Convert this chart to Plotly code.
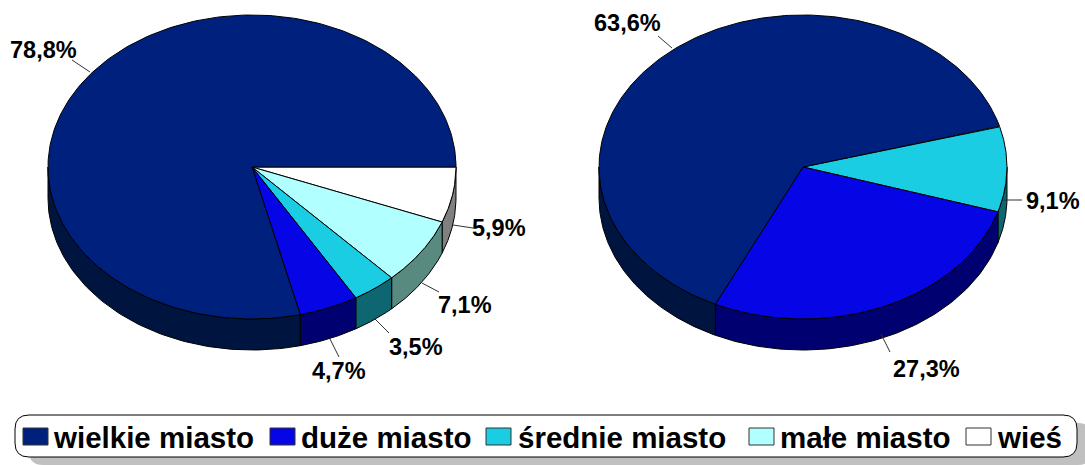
import numpy as np
import plotly.graph_objects as go

categories = ["wieś", "małe miasto", "średnie miasto", "duże miasto", "wielkie miasto"]
left_values = [5.9, 7.1, 3.5, 4.7, 78.8]
right_values = [0, 0, 9.1, 27.3, 63.6]
right_start_deg = -15.6
left_start_deg = 0.0

top_colors = {"wieś": "#ffffff", "małe miasto": "#b2ffff", "średnie miasto": "#1bcde3",
              "duże miasto": "#0505e6", "wielkie miasto": "#00207e"}
side_colors = {"wieś": "#808080", "małe miasto": "#598a80", "średnie miasto": "#0e6670",
               "duże miasto": "#000070", "wielkie miasto": "#001440"}
legend_order = ["wielkie miasto", "duże miasto", "średnie miasto", "małe miasto", "wieś"]
legend_swatch_x = [23, 270, 486, 749, 966]
legend_text_x = [51, 299, 516, 778, 995]

RX, RY, DEPTH, CY = 204, 152, 31, 167
FONT = "Liberation Sans"

fig = go.Figure()


def poly(xs, ys, fill):
    fig.add_trace(go.Scatter(x=xs, y=ys, mode="lines", fill="toself", fillcolor=fill,
                             line=dict(color="#000000", width=1), hoverinfo="skip",
                             showlegend=False))


def draw_pie(cx, values, start):
    total = sum(values)
    a = start
    spans = []
    for name, v in zip(categories, values):
        if v > 0:
            spans.append((name, a, a + v / total * 360))
            a += v / total * 360
    # side walls: only the front half of the rim is visible
    for name, a0, a1 in spans:
        for lo, hi in [(a0, a1), (a0 - 360, a1 - 360)]:
            s, e = max(lo, 0), min(hi, 180)
            if e > s:
                t = np.radians(np.linspace(s, e, 90))
                xs = cx + RX * np.cos(t)
                ys = CY + RY * np.sin(t)
                poly(np.r_[xs, xs[::-1], xs[0]], np.r_[ys, ys[::-1] + DEPTH, ys[0]], side_colors[name])
    for name, a0, a1 in spans:
        t = np.radians(np.linspace(a0, a1, 240))
        poly(np.r_[cx, cx + RX * np.cos(t), cx], np.r_[CY, CY + RY * np.sin(t), CY], top_colors[name])


draw_pie(252, left_values, left_start_deg)
draw_pie(803, right_values, right_start_deg)

label_text = ["78,8%", "5,9%", "7,1%", "3,5%", "4,7%", "63,6%", "9,1%", "27,3%"]
label_x = [43, 499, 465, 416, 339, 627, 1053, 926]
label_y = [50, 228, 305, 347, 371, 23, 201, 369]
leader_x = [(90, 72), (453, 473), (422, 439), (375, 389), (330, 339), (672, 658), (1002, 1022), (881, 890)]
leader_y = [(72, 60), (225, 228), (283, 292), (319, 333), (339, 357), (48, 36), (200, 200), (334, 352)]

for (x0, x1), (y0, y1) in zip(leader_x, leader_y):
    fig.add_trace(go.Scatter(x=[x0, x1], y=[y0, y1], mode="lines", showlegend=False, hoverinfo="skip",
                             line=dict(color="#333333", width=1)))

ann = [dict(x=x, y=y, text=f"<b>{t}</b>", showarrow=False, xanchor="center", yanchor="middle",
            font=dict(family=FONT, size=23.5, color="#000000"))
       for t, x, y in zip(label_text, label_x, label_y)]
for name, tx in zip(legend_order, legend_text_x):
    ann.append(dict(x=tx, y=437, text=f"<b>{name}</b>", showarrow=False, xanchor="left", yanchor="middle",
                    font=dict(family=FONT, size=29.5, color="#000000")))


def rounded(x0, y0, x1, y1, r):
    return (f"M{x0+r},{y0} L{x1-r},{y0} Q{x1},{y0} {x1},{y0+r} L{x1},{y1-r} Q{x1},{y1} {x1-r},{y1} "
            f"L{x0+r},{y1} Q{x0},{y1} {x0},{y1-r} L{x0},{y0+r} Q{x0},{y0} {x0+r},{y0} Z")


shapes = [
    dict(type="path", path=rounded(29, 423, 1092, 465, 14), fillcolor="#c0c0c0", line=dict(width=0), layer="below"),
    dict(type="path", path=rounded(15, 415, 1077, 457, 14), fillcolor="#ffffff",
         line=dict(color="#000000", width=1), layer="below"),
]
for name, sx in zip(legend_order, legend_swatch_x):
    shapes.append(dict(type="rect", x0=sx, x1=sx + 25, y0=428, y1=445, fillcolor=top_colors[name],
                       line=dict(color="#333333", width=1)))

fig.update_layout(
    width=1085, height=465, margin=dict(l=0, r=0, t=0, b=0),
    paper_bgcolor="#ffffff", plot_bgcolor="#ffffff",
    xaxis=dict(range=[0, 1085], visible=False, fixedrange=True),
    yaxis=dict(range=[465, 0], visible=False, fixedrange=True),
    annotations=ann, shapes=shapes, showlegend=False,
)
fig.write_html("out.html", config={"displayModeBar": False},
               post_script="document.body.style.margin='0';document.body.style.overflow='hidden';")
